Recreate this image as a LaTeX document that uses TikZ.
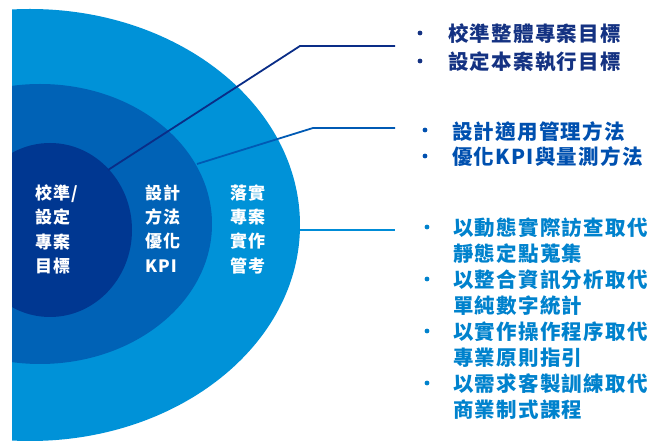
\documentclass[tikz,border=0pt]{standalone}
\usepackage{fontspec}
\newfontfamily\cjkright{Noto Sans CJK TC}[LetterSpace=6]
\newfontfamily\cjkinner{Noto Sans CJK TC}[LetterSpace=6]
\definecolor{ringout}{RGB}{0,146,216}
\definecolor{ringmid}{RGB}{0,98,182}
\definecolor{ringin}{RGB}{0,55,145}
\definecolor{lineone}{RGB}{10,45,135}
\definecolor{linetwo}{RGB}{0,90,180}
\definecolor{linethree}{RGB}{0,140,215}
\definecolor{textone}{RGB}{20,50,130}
\definecolor{texttwo}{RGB}{0,80,175}
\definecolor{textthree}{RGB}{0,130,205}
\tikzset{
  ringlabel/.style={anchor=north west, inner sep=0pt, align=left, text=white,
    font=\cjkinner\bfseries\fontsize{17}{24.3}\selectfont},
  itemtext/.style={anchor=north west, inner sep=0pt, align=left,
    font=\cjkright\bfseries\fontsize{20.5}{#1}\selectfont},
  connector/.style={line width=1.8pt},
  bulletdot/.style={radius=2.4pt}
}
\begin{document}
\begin{tikzpicture}[x=1pt,y=-1pt]
\useasboundingbox (0,0) rectangle (654,443);
\begin{scope}
  \clip (12,0) rectangle (654,443);
  \fill[ringout] (30,225) ellipse [x radius=270pt, y radius=216pt];
  \fill[ringmid] (40,224) ellipse [x radius=172pt, y radius=140pt];
  \fill[ringin] (50,230) ellipse [x radius=82pt, y radius=87pt];
\end{scope}
% connectors
\coordinate (s1) at (108,170);
\coordinate (b1) at (300,46);
\coordinate (e1) at (395,46);
\coordinate (s2) at (197,164);
\coordinate (b2) at (313,128);
\coordinate (e2) at (395,128);
\coordinate (s3) at (299,230);
\coordinate (e3) at (395,230);
\draw[connector, lineone] (s1) -- (b1) -- (e1);
\draw[connector, linetwo] (s2) -- (b2) -- (e2);
\draw[connector, linethree] (s3) -- (e3);
% ring labels
\node[ringlabel] (core) at (35,184.5) {校準/\\設定\\專案\\目標};
\node[ringlabel] (method) at (145,184.5) {設計\\方法\\優化\\KPI};
\node[ringlabel] (practice) at (230,184.5) {落實\\專案\\實作\\管考};
% right texts
\node[itemtext=28, text=textone] (goals) at (448,23.5) {校準整體專案目標\\設定本案執行目標};
\node[itemtext=25.5, text=texttwo] (methods) at (452,121) {設計適用管理方法\\優化KPI與量測方法};
\node[itemtext=26, text=textthree] (actions) at (453,218) {以動態實際訪查取代\\靜態定點蒐集\\以整合資訊分析取代\\單純數字統計\\以實作操作程序取代\\專業原則指引\\以需求客製訓練取代\\商業制式課程};
% bullets
\fill[textone] (420,33) circle[bulletdot];
\fill[textone] (420,61) circle[bulletdot];
\fill[texttwo] (425,130) circle[bulletdot];
\fill[texttwo] (425,156) circle[bulletdot];
\fill[textthree] (427,227) circle[bulletdot];
\fill[textthree] (427,279) circle[bulletdot];
\fill[textthree] (427,331) circle[bulletdot];
\fill[textthree] (427,383) circle[bulletdot];
\end{tikzpicture}
\end{document}
